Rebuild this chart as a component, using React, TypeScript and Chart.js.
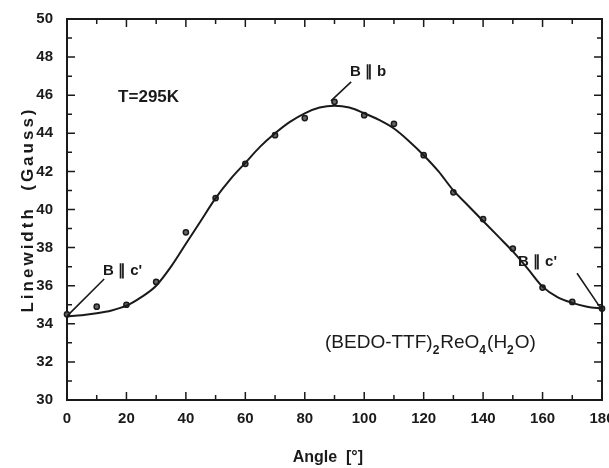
import React, { useEffect, useRef } from "react";
import { Chart, registerables } from "chart.js";
Chart.register(...registerables);

// Measured data points (angle in degrees, linewidth in Gauss)
const pointAngles = [0, 10, 20, 30, 40, 50, 60, 70, 80, 90, 100, 110, 120, 130, 140, 150, 160, 170, 180];
const pointWidths = [34.5, 34.9, 35.0, 36.2, 38.8, 40.6, 42.4, 43.9, 44.8, 45.65, 44.95, 44.5, 42.85, 40.9, 39.5, 37.95, 35.9, 35.15, 34.8];

// Fitted curve
const fitAngles = [0, 5, 10, 15, 20, 25, 30, 35, 40, 45, 50, 55, 60, 65, 70, 75, 80, 85, 90, 95, 100, 105, 110, 115, 120, 125, 130, 135, 140, 145, 150, 155, 160, 165, 170, 175, 180];
const fitWidths = [34.4, 34.45, 34.55, 34.7, 34.95, 35.4, 36.0, 37.0, 38.2, 39.4, 40.6, 41.6, 42.45, 43.3, 44.0, 44.6, 45.05, 45.35, 45.45, 45.35, 45.05, 44.7, 44.25, 43.6, 42.85, 42.0, 41.0, 40.2, 39.4, 38.6, 37.8, 36.9, 35.95, 35.4, 35.1, 34.9, 34.8];

const xTickValues = [0, 20, 40, 60, 80, 100, 120, 140, 160, 180];
const xMinorValues = [10, 30, 50, 70, 90, 110, 130, 150, 170];
const yTickValues = [30, 32, 34, 36, 38, 40, 42, 44, 46, 48, 50];
const yMinorValues = [31, 33, 35, 37, 39, 41, 43, 45, 47, 49];

const xTitle = "Angle  [°]   ";
const yTitle = "Linewidth  (Gauss)";

// Annotation texts, anchored in data units
const labelTexts = ["T=295K", "B ∥ b", "B ∥ c'", "B ∥ c'"];
const labelAngles = [17.2, 95.2, 12.1, 151.7];
const labelValues = [45.9, 47.2, 36.8, 37.25];
const labelSizes = [17, 15, 15, 15];
// leader lines [x1, y1, x2, y2] in data units
const leaderLines = [
  [88.8, 45.7, 95.6, 46.7],
  [0, 34.4, 12.5, 36.35],
  [171.6, 36.65, 179.2, 34.9],
];
const formulaAngle = 86.8;
const formulaValue = 33.0;

const FONT = "'Liberation Sans', Arial, sans-serif";
const INK = "#1a1a1a";

const framePlugin = {
  id: "framePlugin",
  afterDraw(chart: any) {
    const { ctx, chartArea: a, scales } = chart;
    const xs = scales.x;
    const ys = scales.y;
    ctx.save();
    ctx.strokeStyle = INK;
    ctx.lineWidth = 2;
    ctx.beginPath();
    ctx.moveTo(a.left, a.top);
    ctx.lineTo(a.right, a.top);
    ctx.lineTo(a.right, a.bottom);
    ctx.stroke();

    ctx.lineWidth = 1.5;
    const major = 8;
    const minor = 5;
    ctx.beginPath();
    xTickValues.forEach((v) => {
      const px = xs.getPixelForValue(v);
      ctx.moveTo(px, a.bottom);
      ctx.lineTo(px, a.bottom - major);
      ctx.moveTo(px, a.top);
      ctx.lineTo(px, a.top + major);
    });
    xMinorValues.forEach((v) => {
      const px = xs.getPixelForValue(v);
      ctx.moveTo(px, a.bottom);
      ctx.lineTo(px, a.bottom - minor);
      ctx.moveTo(px, a.top);
      ctx.lineTo(px, a.top + minor);
    });
    yTickValues.forEach((v) => {
      const py = ys.getPixelForValue(v);
      ctx.moveTo(a.left, py);
      ctx.lineTo(a.left + major, py);
      ctx.moveTo(a.right, py);
      ctx.lineTo(a.right - major, py);
    });
    yMinorValues.forEach((v) => {
      const py = ys.getPixelForValue(v);
      ctx.moveTo(a.left, py);
      ctx.lineTo(a.left + minor, py);
      ctx.moveTo(a.right, py);
      ctx.lineTo(a.right - minor, py);
    });
    ctx.stroke();

    // leader lines
    ctx.lineWidth = 1.6;
    ctx.beginPath();
    leaderLines.forEach((l) => {
      ctx.moveTo(xs.getPixelForValue(l[0]), ys.getPixelForValue(l[1]));
      ctx.lineTo(xs.getPixelForValue(l[2]), ys.getPixelForValue(l[3]));
    });
    ctx.stroke();

    // labels
    ctx.fillStyle = INK;
    ctx.textBaseline = "middle";
    ctx.textAlign = "left";
    labelTexts.forEach((t, i) => {
      ctx.font = `bold ${labelSizes[i]}px ${FONT}`;
      ctx.fillText(t, xs.getPixelForValue(labelAngles[i]), ys.getPixelForValue(labelValues[i]));
    });

    // formula with subscripts
    const parts: [string, boolean][] = [
      ["(BEDO-TTF)", false],
      ["2", true],
      ["ReO", false],
      ["4", true],
      ["(H", false],
      ["2", true],
      ["O)", false],
    ];
    let fx = xs.getPixelForValue(formulaAngle);
    const fy = ys.getPixelForValue(formulaValue);
    parts.forEach(([s, sub]) => {
      ctx.font = sub ? `bold 12px ${FONT}` : `19px ${FONT}`;
      ctx.fillText(s, fx, sub ? fy + 8 : fy);
      fx += ctx.measureText(s).width + (sub ? 1 : 0);
    });
    ctx.restore();
  },
};

export default function App() {
  const ref = useRef<HTMLCanvasElement>(null);
  useEffect(() => {
    document.body.style.margin = "0";
    const chart = new Chart(ref.current as HTMLCanvasElement, {
      type: "scatter",
      data: {
        datasets: [
          {
            type: "line",
            label: "fit",
            data: fitAngles.map((x, i) => ({ x, y: fitWidths[i] })),
            borderColor: INK,
            borderWidth: 2,
            pointRadius: 0,
            cubicInterpolationMode: "monotone",
            fill: false,
          } as any,
          {
            label: "data",
            data: pointAngles.map((x, i) => ({ x, y: pointWidths[i] })),
            borderColor: INK,
            backgroundColor: "#666",
            borderWidth: 1.5,
            pointRadius: 2.6,
            clip: false,
          } as any,
        ],
      },
      options: {
        animation: false,
        responsive: true,
        maintainAspectRatio: false,
        layout: { padding: { top: 19, right: 7, left: 0, bottom: 0 } },
        plugins: { legend: { display: false }, tooltip: { enabled: false } },
        scales: {
          x: {
            type: "linear",
            min: 0,
            max: 180,
            afterFit: (s: any) => {
              s.height = 68;
              s.paddingLeft = 0;
              s.paddingRight = 0;
            },
            afterBuildTicks: (s: any) => {
              s.ticks = xTickValues.map((v) => ({ value: v }));
            },
            grid: { display: false, drawTicks: false },
            border: { display: true, color: INK, width: 2 },
            ticks: {
              padding: 10,
              color: INK,
              font: { family: FONT, size: 15, weight: "bold" },
            },
            title: {
              display: true,
              text: xTitle,
              color: INK,
              font: { family: FONT, size: 16, weight: "bold" },
              padding: { top: 0, bottom: 1 },
            },
          },
          y: {
            type: "linear",
            min: 30,
            max: 50,
            afterFit: (s: any) => {
              s.width = 67;
              s.paddingTop = 0;
              s.paddingBottom = 0;
              if (!s.__spaced) {
                const orig = s.drawTitle.bind(s);
                s.drawTitle = () => {
                  s.ctx.save();
                  s.ctx.letterSpacing = "3px";
                  orig();
                  s.ctx.restore();
                };
                s.__spaced = true;
              }
            },
            afterBuildTicks: (s: any) => {
              s.ticks = yTickValues.map((v) => ({ value: v }));
            },
            grid: { display: false, drawTicks: false },
            border: { display: true, color: INK, width: 2 },
            ticks: {
              padding: 14,
              color: INK,
              font: { family: FONT, size: 15, weight: "bold" },
            },
            title: {
              display: true,
              text: yTitle,
              color: INK,
              font: { family: FONT, size: 17, weight: "bold" },
              padding: { top: 18, bottom: 0 },
            },
          },
        },
      },
      plugins: [framePlugin],
    } as any);
    return () => chart.destroy();
  }, []);
  return (
    <div style={{ position: "relative", width: 609, height: 468 }}>
      <canvas ref={ref} />
    </div>
  );
}
